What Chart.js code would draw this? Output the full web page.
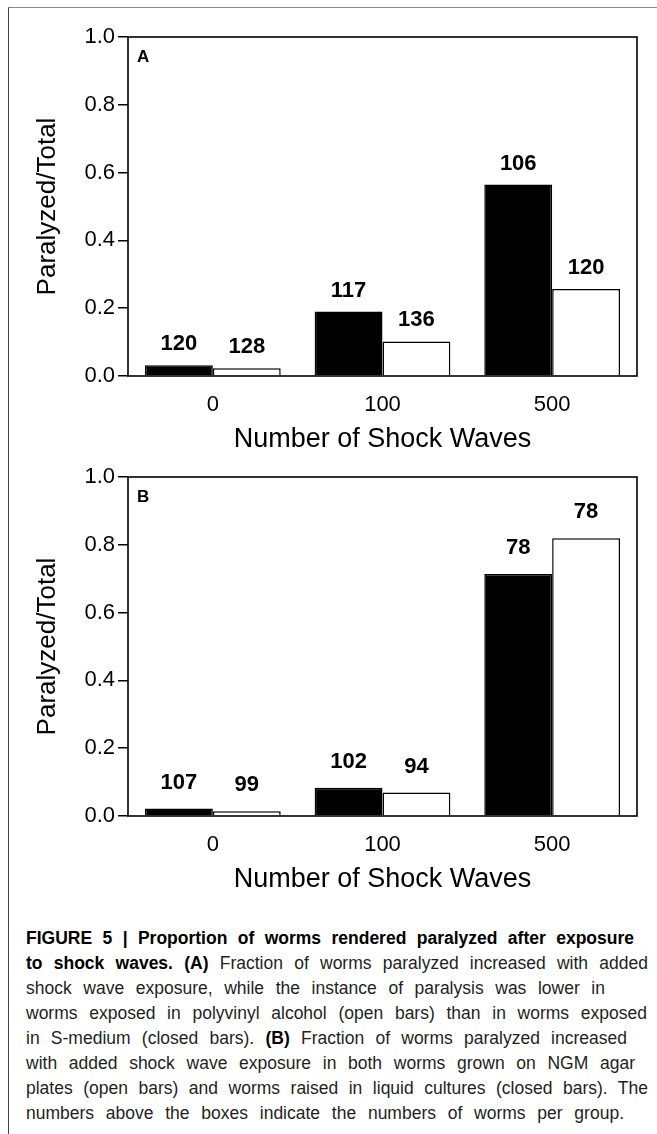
<!DOCTYPE html>
<html>
<head>
<meta charset="utf-8">
<script src="https://cdn.jsdelivr.net/npm/chart.js@4.4.1/dist/chart.umd.min.js"></script>
<style>
  body { margin: 0; background: #fff; }
  #page { position: relative; width: 657px; height: 1134px; overflow: hidden; }
  #frame { position: absolute; left: 8px; top: 7px; width: 660px; height: 1140px;
           border-left: 1px solid #444; border-top: 1px solid #888; }
  canvas { position: absolute; left: 0; }
  #chartA { top: 0; }
  #chartB { top: 440px; }
  #caption { position: absolute; left: 26px; top: 926px; font-family: "Liberation Sans", Arial, sans-serif;
             font-size: 17.5px; color: #231f20; line-height: 25px; }
  #caption div { white-space: nowrap; text-align: justify; text-align-last: justify; }
  #caption b { font-weight: bold; color: #000; }
</style>
</head>
<body>
<div id="page">
  <div id="frame"></div>
  <canvas id="chartA" width="657" height="470"></canvas>
  <canvas id="chartB" width="657" height="470"></canvas>
  <div id="caption">
    <div style="width:608px"><b>FIGURE 5 | Proportion of worms rendered paralyzed after exposure</b></div>
    <div style="width:622px"><b>to shock waves. (A)</b> Fraction of worms paralyzed increased with added</div>
    <div style="width:579px">shock wave exposure, while the instance of paralysis was lower in</div>
    <div style="width:621px">worms exposed in polyvinyl alcohol (open bars) than in worms exposed</div>
    <div style="width:601px">in S-medium (closed bars). <b>(B)</b> Fraction of worms paralyzed increased</div>
    <div style="width:609px">with added shock wave exposure in both worms grown on NGM agar</div>
    <div style="width:622px">plates (open bars) and worms raised in liquid cultures (closed bars). The</div>
    <div style="width:598px">numbers above the boxes indicate the numbers of worms per group.</div>
  </div>
</div>
<script>
// shock wave doses (x categories)
const categories = ['0', '100', '500'];
const yTicks = [0, 0.2, 0.4, 0.6, 0.8, 1.0];

// Panel A: S-medium (closed) vs polyvinyl alcohol (open)
const fracA_closed = [0.032, 0.19, 0.565];
const fracA_open = [0.023, 0.102, 0.257];
const nA_closed = [120, 117, 106];
const nA_open = [128, 136, 120];

// Panel B: liquid cultures (closed) vs NGM agar plates (open)
const fracB_closed = [0.022, 0.083, 0.714];
const fracB_open = [0.014, 0.069, 0.819];
const nB_closed = [107, 102, 78];
const nB_open = [99, 94, 78];

const FONT = '"Liberation Sans", Arial, sans-serif';

// box around plot area, panel letter and n above each bar
const figurePlugin = {
    id: 'figureExtras',
    afterDatasetsDraw(chart, args, opts) {
        const ctx = chart.ctx;
        const a = chart.chartArea;
        ctx.save();
        ctx.strokeStyle = '#000';
        ctx.lineWidth = 1.6;
        ctx.strokeRect(a.left, a.top, a.right - a.left, a.bottom - a.top);

        ctx.fillStyle = '#000';
        ctx.font = 'bold 17px ' + FONT;
        ctx.textAlign = 'left';
        ctx.textBaseline = 'alphabetic';
        ctx.fillText(opts.letter, a.left + 9, a.top + 25);

        ctx.font = 'bold 22px ' + FONT;
        ctx.textAlign = 'center';
        ctx.textBaseline = 'middle';
        chart.data.datasets.forEach((ds, di) => {
            chart.getDatasetMeta(di).data.forEach((bar, i) => {
                ctx.fillText(String(ds.counts[i]), bar.x, bar.y - opts.gap);
            });
        });
        ctx.restore();
    }
};

function makeChart(id, letter, closed, open, nClosed, nOpen, gap) {
    const ctx = document.getElementById(id).getContext('2d');
    return new Chart(ctx, {
        type: 'bar',
        data: {
            labels: categories,
            datasets: [{
                data: closed,
                counts: nClosed,
                backgroundColor: '#000',
                borderColor: '#000',
                borderWidth: 1.5
            }, {
                data: open,
                counts: nOpen,
                backgroundColor: '#fff',
                borderColor: '#000',
                borderWidth: 1.5
            }]
        },
        plugins: [figurePlugin],
        options: {
            responsive: false,
            animation: false,
            devicePixelRatio: 1,
            categoryPercentage: 0.8,
            barPercentage: 1.0,
            layout: { padding: { top: 37, right: 20, left: 0, bottom: 0 } },
            plugins: {
                legend: { display: false },
                tooltip: { enabled: false },
                figureExtras: { letter: letter, gap: gap }
            },
            scales: {
                x: {
                    grid: { display: false, drawTicks: false },
                    border: { display: false },
                    ticks: { color: '#000', padding: 16, font: { family: FONT, size: 22 } },
                    title: {
                        display: true,
                        text: 'Number of Shock Waves',
                        color: '#000',
                        font: { family: FONT, size: 27 },
                        padding: { top: 0, bottom: 14 }
                    },
                    afterFit(scale) { scale.height = 94; }
                },
                y: {
                    min: 0,
                    max: 1,
                    afterBuildTicks(scale) { scale.ticks = yTicks.map(v => ({ value: v })); },
                    grid: { drawOnChartArea: false, drawTicks: true, tickLength: 10, color: '#000', lineWidth: 1.5 },
                    border: { display: false },
                    ticks: {
                        color: '#000',
                        padding: 3,
                        font: { family: FONT, size: 22 },
                        callback: v => v.toFixed(1)
                    },
                    title: {
                        display: true,
                        text: 'Paralyzed/Total',
                        color: '#000',
                        font: { family: FONT, size: 26 },
                        padding: { top: 32, bottom: 0 }
                    },
                    afterFit(scale) { scale.width = 128; }
                }
            }
        }
    });
}

makeChart('chartA', 'A', fracA_closed, fracA_open, nA_closed, nA_open, 21);
makeChart('chartB', 'B', fracB_closed, fracB_open, nB_closed, nB_open, 26);
</script>
</body>
</html>
